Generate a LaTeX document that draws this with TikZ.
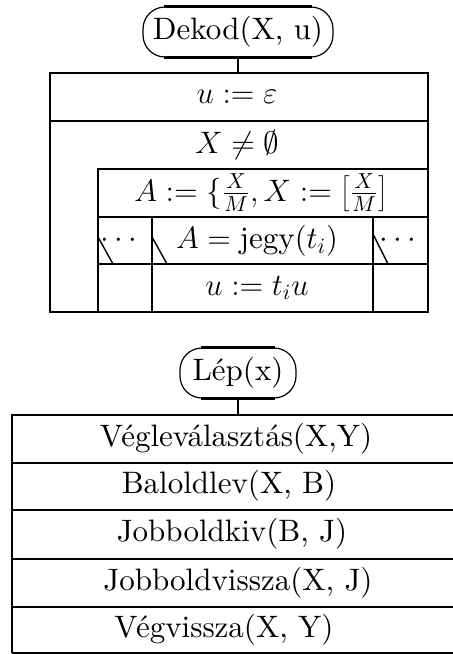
\RequirePackage{fix-cm}
\documentclass[tikz,border=0pt]{standalone}
\usepackage{fontspec}
\setmainfont{lmroman10-regular}[Extension=.otf]
\begin{document}
\begin{tikzpicture}[x=0.5pt,y=-0.5pt,
  every node/.style={font=\fontsize{15.5}{18}\selectfont, inner sep=0pt},
  frame/.style={line width=1.2pt},
  rule/.style={line width=0.85pt},
  thinrule/.style={line width=0.7pt},
  oval/.style={draw, rounded corners=11pt, line width=0.6pt, minimum height=25pt},
  ovaledge/.style={line width=1.2pt}]
\useasboundingbox (0,0) rectangle (453,654);

% ---------- upper diagram ----------
\node[oval, minimum width=95pt] (dek) at (238,32) {Dekod(X, u)};
\draw[ovaledge] ([xshift=11pt]dek.north west) -- ([xshift=-11pt]dek.north east);
\draw[ovaledge] ([xshift=11pt]dek.south west) -- ([xshift=-11pt]dek.south east);
\coordinate (t1) at (238,73);
\draw[rule] (dek.south) -- (t1);

\draw[frame] (50,73) rectangle (428,312);
\draw[rule] (50,121) -- (428,121);
\draw[thinrule] (98,312) -- (98,169) -- (428,169);
\draw[thinrule] (98,217) -- (428,217);
\draw[rule] (98,264) -- (428,264);
\draw[thinrule] (152,217) -- (152,312);
\draw[thinrule] (373,217) -- (373,312);
% case slashes
\draw[thinrule] (98,237) -- (113,264);
\draw[thinrule] (152,237) -- (167,264);
\draw[thinrule] (373,234) -- (388,264);

\node (s1) at (237,97) {$u := \varepsilon$};
\node (s2) at (237,145) {$X \neq \emptyset$};
\node (s3) at (261,193) {$A := \{\frac{X}{M}, X := \left[\frac{X}{M}\right]$};
\node (s4) at (257,241) {$A = \mathrm{jegy}(t_i)$};
\node (s5) at (257,288) {$u := t_i u$};
\node (d1) at (119,241) {$\cdots$};
\node (d2) at (398,241) {$\cdots$};

% ---------- lower diagram ----------
\node[oval, minimum width=58pt] (lep) at (238,373) {L\'ep(x)};
\draw[ovaledge] ([xshift=11pt]lep.north west) -- ([xshift=-11pt]lep.north east);
\draw[ovaledge] ([xshift=11pt]lep.south west) -- ([xshift=-11pt]lep.south east);
\coordinate (t2) at (238,415);
\draw[rule] (lep.south) -- (t2);

\draw[frame] (453,415) -- (12,415) -- (12,653);
\draw[frame] (12,463) -- (453,463);
\draw[thinrule] (12,510) -- (453,510);
\draw[rule] (12,559) -- (453,559);
\draw[rule] (12,607) -- (453,607);
\draw[rule] (12,653) -- (453,653);

\node (r1) at (236,439) {V\'eglev\'alaszt\'as(X,Y)};
\node (r2) at (229,486) {Baloldlev(X, B)};
\node (r3) at (232,534) {Jobboldkiv(B, J)};
\node (r4) at (238,583) {Jobboldvissza(X, J)};
\node (r5) at (224,630) {V\'egvissza(X, Y)};
\end{tikzpicture}
\end{document}
